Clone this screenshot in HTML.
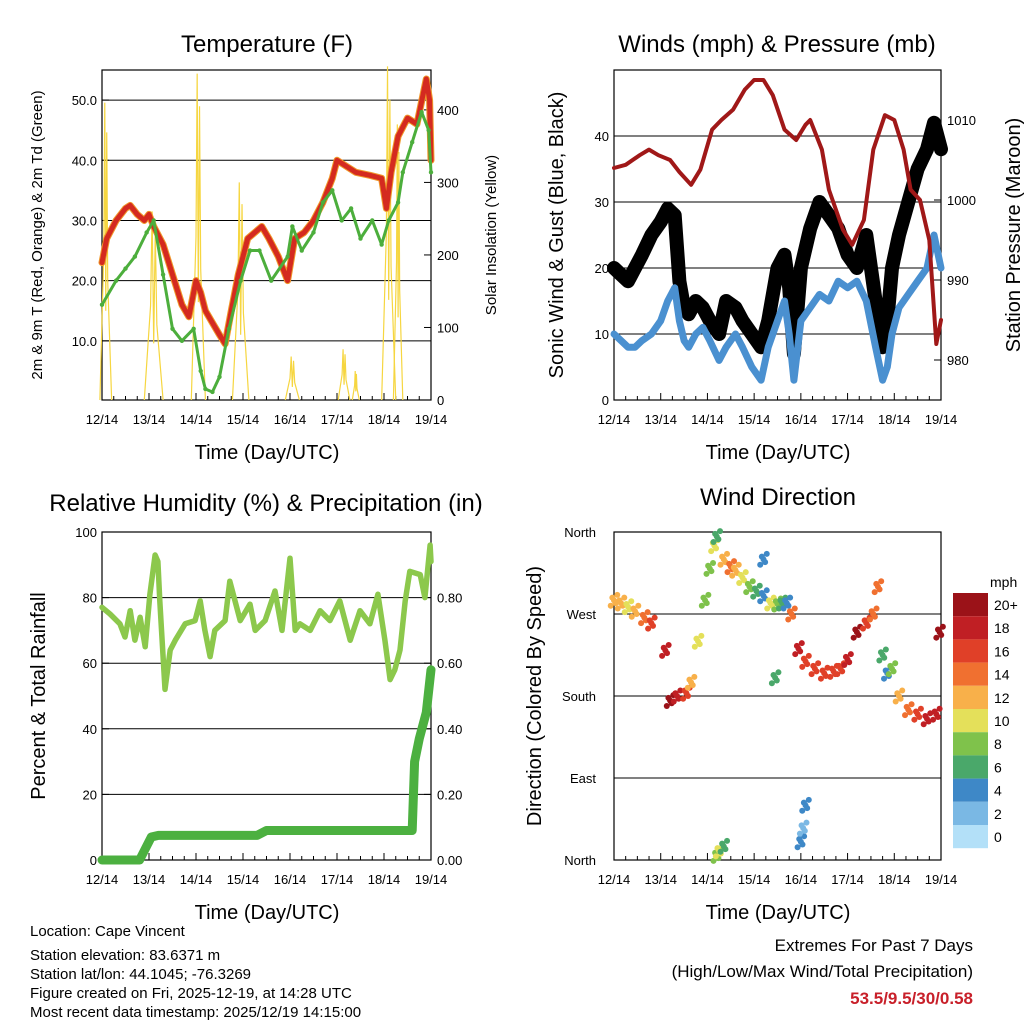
<!DOCTYPE html>
<html><head><meta charset="utf-8">
<style>
body{margin:0;background:#fff;}
svg{display:block;font-family:"Liberation Sans",sans-serif;}
</style></head>
<body>
<svg id="s" width="1024" height="1024" viewBox="0 0 1024 1024" xmlns="http://www.w3.org/2000/svg">
<rect x="0" y="0" width="1024" height="1024" fill="#fff"/>
<g id="layer"></g>
<text x="267" y="52" font-size="24" text-anchor="middle">Temperature (F)</text>
<text x="777" y="52" font-size="24" text-anchor="middle">Winds (mph) &amp; Pressure (mb)</text>
<text x="266" y="511" font-size="24" text-anchor="middle">Relative Humidity (%) &amp; Precipitation (in)</text>
<text x="778" y="505" font-size="24" text-anchor="middle">Wind Direction</text>
<text x="267" y="459" font-size="20" text-anchor="middle">Time (Day/UTC)</text>
<text x="778" y="459" font-size="20" text-anchor="middle">Time (Day/UTC)</text>
<text x="267" y="919" font-size="20" text-anchor="middle">Time (Day/UTC)</text>
<text x="778" y="919" font-size="20" text-anchor="middle">Time (Day/UTC)</text>
<text transform="translate(42,235) rotate(-90)" font-size="15" text-anchor="middle">2m &amp; 9m T (Red, Orange) &amp; 2m Td (Green)</text>
<text transform="translate(496,235) rotate(-90)" font-size="15" text-anchor="middle">Solar Insolation (Yellow)</text>
<text transform="translate(563,235) rotate(-90)" font-size="20" text-anchor="middle">Sonic Wind &amp; Gust (Blue, Black)</text>
<text transform="translate(1020,235) rotate(-90)" font-size="20" text-anchor="middle">Station Pressure (Maroon)</text>
<text transform="translate(45,696) rotate(-90)" font-size="20" text-anchor="middle">Percent &amp; Total Rainfall</text>
<text transform="translate(541,696) rotate(-90)" font-size="20" text-anchor="middle">Direction (Colored By Speed)</text>
<g font-size="15">
<text x="30" y="936">Location: Cape Vincent</text>
<text x="30" y="960">Station elevation: 83.6371 m</text>
<text x="30" y="979">Station lat/lon: 44.1045; -76.3269</text>
<text x="30" y="998">Figure created on Fri, 2025-12-19, at 14:28 UTC</text>
<text x="30" y="1017">Most recent data timestamp: 2025/12/19 14:15:00</text>
</g>
<g font-size="17" text-anchor="end">
<text x="973" y="951">Extremes For Past 7 Days</text>
<text x="973" y="977">(High/Low/Max Wind/Total Precipitation)</text>
<text x="973" y="1004" font-weight="bold" fill="#c8202a">53.5/9.5/30/0.58</text>
</g>
</svg>
<script>
// ---------- data ----------
var dayLabels=["12/14","13/14","14/14","15/14","16/14","17/14","18/14","19/14"];
var tempTicks=[10,20,30,40,50];
var solarTicks=[0,100,200,300,400];
var windTicks=[0,10,20,30,40];
var presTicks=[980,990,1000,1010];
var rhTicks=[0,20,40,60,80,100];
var rainTicks=[0,0.2,0.4,0.6,0.8];
var dirTicks=["North","East","South","West","North"];
var speedLabels=["20+","18","16","14","12","10","8","6","4","2","0"];
var speedColors=["#9b1218","#c01f24","#e04028","#f07030","#f8b04a","#e4e05a","#7fc24b","#4aa86a","#3e88c7","#7ab8e4","#b3e0f8"];

var tempDays=[0,0.1,0.3,0.5,0.6,0.75,0.9,1.0,1.1,1.3,1.5,1.7,1.85,2.0,2.1,2.2,2.35,2.5,2.62,2.75,2.9,3.1,3.4,3.55,3.75,3.95,4.1,4.3,4.5,4.7,4.9,5.0,5.1,5.4,5.7,5.95,6.05,6.15,6.3,6.5,6.7,6.9,6.97,7.0];
var tempVals=[23,27,30,32,32.5,31,30,31,29,26,21,16,14,20,18,15,13,11,9.5,15,21,27,29,27,24,20,27,28,30,33,37,40,39.5,38,37.5,37,32,38,44,47,46,53.5,50,40];
var dewDays=[0,0.3,0.5,0.7,0.95,1.1,1.3,1.5,1.7,1.95,2.1,2.2,2.35,2.5,2.7,2.95,3.15,3.35,3.6,3.95,4.05,4.25,4.5,4.7,4.9,5.1,5.3,5.5,5.75,5.95,6.1,6.3,6.4,6.6,6.8,6.95,7.0];
var dewVals=[16,20,22,24,28,30,21,12,10,12,5,2,1.5,4,12,20,25,25,20,24,29,25,28,33,35,30,32,27,30,26,30,33,38,43,48,45,38];
var solarDays=[0.08,1.1,2.05,2.95,4.05,5.15,5.4,6.1,6.3];
var solarPeaks=[410,260,450,300,60,70,40,460,380];
var solarWidth=[0.25,0.4,0.3,0.35,0.3,0.25,0.15,0.3,0.2];

var windDays=[0,0.15,0.3,0.45,0.6,0.8,1.0,1.15,1.3,1.4,1.5,1.6,1.75,1.9,2.05,2.25,2.4,2.6,2.75,2.95,3.15,3.3,3.5,3.65,3.75,3.85,4.0,4.2,4.4,4.6,4.8,5.0,5.2,5.4,5.6,5.75,5.85,5.95,6.1,6.3,6.5,6.7,6.85,7.0];
var windVals=[10,9,8,8,9,10,12,15,17,12,9,8,10,11,9,6,8,10,8,5,3,8,12,15,10,3,12,14,16,15,18,17,18,15,8,3,5,10,14,16,18,20,25,20];
var gustVals=[20,19,18,20,22,25,27,29,28,18,14,13,15,14,12,10,15,14,12,10,8,12,20,22,17,7,20,26,30,28,26,22,20,25,15,8,12,20,25,30,35,38,42,38];
var presDays=[0,0.25,0.55,0.75,0.95,1.2,1.4,1.65,1.85,2.1,2.3,2.55,2.8,3.0,3.2,3.4,3.65,3.9,4.1,4.2,4.45,4.6,4.9,5.1,5.35,5.55,5.8,6.0,6.2,6.35,6.55,6.75,6.9,7.0];
var presVals=[1004,1004.4,1005.6,1006.3,1005.6,1005,1003.5,1001.9,1003.8,1008.8,1010,1011.3,1013.8,1015,1015,1013.1,1008.8,1007.5,1009.4,1010,1006.3,1001.3,996.3,994.4,997.5,1006.3,1010.6,1010,1006.3,1001.3,1000,995,982,985];

var rhDays=[0,0.17,0.38,0.49,0.6,0.7,0.81,0.92,1.02,1.13,1.19,1.23,1.34,1.45,1.56,1.77,1.98,2.09,2.19,2.3,2.4,2.62,2.72,2.94,3.15,3.26,3.47,3.68,3.83,4.0,4.11,4.21,4.43,4.64,4.85,5.06,5.28,5.49,5.7,5.87,6.02,6.13,6.23,6.34,6.45,6.55,6.77,6.87,6.98,7.0];
var rhVals=[77,75,72,68,76,67,74,65,81,93,91,79,52,64,67,72,73,79,70,62,70,73,85,73,78,70,73,82,70,92,70,72,70,76,73,79,67,76,72,81,67,55,58,64,79,88,87,80,96,91];
var rainDays=[0,0.8,1.05,1.2,3.3,3.5,6.6,6.65,6.75,6.9,7.0];
var rainVals=[0,0,0.07,0.075,0.075,0.09,0.09,0.3,0.37,0.45,0.58];

var dirDays=[0,0.15,0.3,0.45,0.65,0.8,1.1,1.2,1.35,1.55,1.65,1.8,1.95,2.05,2.15,2.2,2.35,2.5,2.6,2.75,2.9,3.05,3.2,3.35,3.5,3.6,3.7,3.8,3.95,4.1,4.3,4.5,4.7,4.85,5.0,5.2,5.4,5.55,5.65,5.75,5.85,5.95,6.1,6.3,6.5,6.7,6.9,6.97,2.2,2.25,2.35,4.0,4.05,4.1,3.45,3.2];
var dirDeg=[285,282,278,273,266,260,230,175,180,183,195,240,285,320,345,355,330,322,318,310,300,295,290,282,281,282,282,270,232,218,210,205,207,210,220,250,260,270,300,225,205,210,180,165,160,155,160,250,5,10,15,20,35,60,200,330];
var dirSpeed=[12,12,10,12,14,16,18,20,18,16,12,10,8,8,10,6,12,14,12,10,8,6,4,10,8,6,4,14,18,16,16,17,16,16,18,20,16,14,14,6,4,8,12,14,16,18,18,20,8,10,6,4,2,4,6,4];

// ---------- helpers ----------
var NS="http://www.w3.org/2000/svg";
var layer=document.getElementById("layer");
function mk(tag,attrs,parent){var e=document.createElementNS(NS,tag);for(var k in attrs)e.setAttribute(k,attrs[k]);(parent||layer).appendChild(e);return e;}
function lin(d0,d1,p0,p1){return function(v){return p0+(v-d0)*(p1-p0)/(d1-d0);};}

function frame(x0,x1,y0,y1,name){
  var r=mk("rect",{x:x0,y:y0,width:x1-x0,height:y1-y0,fill:"none",stroke:"#000","stroke-width":1.2});
  
  
  var xs=lin(0,7,x0,x1);
  for(var i=0;i<dayLabels.length;i++){
    var X=xs(i);
    mk("line",{x1:X,x2:X,y1:y1,y2:y1-7,stroke:"#000"});
    var t=mk("text",{x:X,y:y1+24,"font-size":13,"text-anchor":"middle"});
    t.textContent=dayLabels[i];
    
    
    if(i<7){for(var h=1;h<4;h++){var mx=xs(i+h/4);mk("line",{x1:mx,x2:mx,y1:y1,y2:y1-4,stroke:"#000"});}}
  }
  return xs;
}
function leftAxis(ticks,scale,x0,x1,fmt,grid,name,fs){
  ticks.forEach(function(v){
    var Y=scale(v);
    if(grid&&v!==0) mk("line",{x1:x0,x2:x1,y1:Y,y2:Y,stroke:"#000","stroke-width":1});
    mk("line",{x1:x0,x2:x0+7,y1:Y,y2:Y,stroke:"#000"});
    var t=mk("text",{x:x0-5,y:Y+5,"font-size":fs||13,"text-anchor":"end"});
    t.textContent=fmt(v);
    
    
  });
}
function rightAxis(ticks,scale,x1,fmt,name,fs){
  ticks.forEach(function(v){
    var Y=scale(v);
    mk("line",{x1:x1,x2:x1-7,y1:Y,y2:Y,stroke:"#000"});
    var t=mk("text",{x:x1+6,y:Y+5,"font-size":fs||13,"text-anchor":"start"});
    t.textContent=fmt(v);
    
    
  });
}
function path(xsArr,ysArr,xs,ys,color,w,name){
  var d="";
  for(var i=0;i<xsArr.length;i++)d+=(i?"L":"M")+xs(xsArr[i]).toFixed(1)+","+ys(ysArr[i]).toFixed(1);
  var p=mk("path",{d:d,fill:"none",stroke:color,"stroke-width":w,"stroke-linejoin":"round","stroke-linecap":"round"});
  
  
  return p;
}
function dots(xsArr,ysArr,xs,ys,color,r,name){
  for(var i=0;i<xsArr.length;i++){
    var c=mk("circle",{cx:xs(xsArr[i]),cy:ys(ysArr[i]),r:r,fill:color});
    
    
  }
}

// ---------- Panel 1: temperature ----------
(function(){
  var x0=102,x1=431,y0=70,y1=400;
  var yT=lin(0,55,401,70), yS=lin(0,455,400,70);
  leftAxis(tempTicks,yT,x0,x1,function(v){return v.toFixed(1);},true,"temp-y",13);
  rightAxis(solarTicks,yS,x1,function(v){return v;},"solar-y",13);
  var xs=frame(x0,x1,y0,y1,"temperature");
  for(var i=0;i<solarDays.length;i++){
    var c=solarDays[i],w=solarWidth[i],pk=solarPeaks[i];
    var d="M"+xs(c-w/2)+","+yS(0)+"L"+xs(c-w/6)+","+yS(pk*0.5)+"L"+xs(c-w/12)+","+yS(pk)+"L"+xs(c)+","+yS(pk*0.3)+"L"+xs(c+w/12)+","+yS(pk*0.9)+"L"+xs(c+w/6)+","+yS(pk*0.4)+"L"+xs(c+w/2)+","+yS(0);
    var p=mk("path",{d:d,fill:"none",stroke:"#f6d640","stroke-width":1.2});
    
    
  }
  path(tempDays,tempVals,xs,yT,"#f0982a",7,"temp-9m-line");
  path(tempDays,tempVals,xs,yT,"#d42a20",5,"temp-2m-line");
  path(dewDays,dewVals,xs,yT,"#4cae3c",3,"dewpoint-line");
  dots(dewDays,dewVals,xs,yT,"#4cae3c",2.2,"dewpoint-point");
})();

// ---------- Panel 2: winds ----------
(function(){
  var x0=614,x1=941,y0=70,y1=400;
  var yW=lin(0,50,400,70), yP=lin(980,1010,360,120);
  leftAxis(windTicks,yW,x0,x1,function(v){return v;},true,"wind-y",13);
  rightAxis(presTicks,yP,x1,function(v){return v;},"pressure-y",13);
  var xs=frame(x0,x1,y0,y1,"winds");
  path(windDays,gustVals,xs,yW,"#000",14,"gust-line");
  dots(windDays,gustVals,xs,yW,"#000",4,"gust-point");
  path(windDays,windVals,xs,yW,"#4a90d0",7,"sustained-wind-line");
  path(presDays,presVals,xs,yP,"#a01818",4,"pressure-line");
})();

// ---------- Panel 3: RH ----------
(function(){
  var x0=102,x1=431,y0=532,y1=860;
  var yR=lin(0,100,860,532), yN=lin(0,1,860,532);
  leftAxis(rhTicks,yR,x0,x1,function(v){return v;},true,"rh-y",13);
  rightAxis(rainTicks,yN,x1,function(v){return v.toFixed(2);},"rain-y",13);
  var xs=frame(x0,x1,y0,y1,"humidity");
  path(rhDays,rhVals,xs,yR,"#8cc84c",5.5,"rh-line");
  path(rainDays,rainVals,xs,yN,"#4cb040",9,"precip-line");
})();

// ---------- Panel 4: wind direction ----------
(function(){
  var x0=614,x1=941,y0=532,y1=860;
  var yD=lin(0,360,860,532);
  dirTicks.forEach(function(lbl,i){
    var Y=yD(i*90);
    if(i>0&&i<4) mk("line",{x1:x0,x2:x1,y1:Y,y2:Y,stroke:"#000"});
    mk("line",{x1:x0,x2:x0+7,y1:Y,y2:Y,stroke:"#000"});
    var t=mk("text",{x:x0-18,y:Y+5,"font-size":13,"text-anchor":"end"});
    t.textContent=lbl;
    
    
  });
  var xs=frame(x0,x1,y0,y1,"wind-direction");
  function col(s){var idx=Math.min(10,Math.floor(s/2));return speedColors[10-idx];}
  for(var i=0;i<dirDays.length;i++){
    for(var k=-2;k<=2;k++){
      var c=mk("circle",{cx:xs(dirDays[i]+k*0.035),cy:yD(dirDeg[i]+(k%2?-k:k)*3),r:3,fill:col(dirSpeed[i])});
      
      
    }
  }
  var t=mk("text",{x:990,y:587,"font-size":14});
  t.textContent="mph";
  
  
  var bh=23.2;
  for(var j=0;j<speedLabels.length;j++){
    var r=mk("rect",{x:953,y:593+j*bh,width:35,height:bh,fill:speedColors[j]});
    
    
    var l=mk("text",{x:994,y:593+j*bh+17,"font-size":14});
    l.textContent=speedLabels[j];
    
    
  }
})();
</script>
</body></html>
